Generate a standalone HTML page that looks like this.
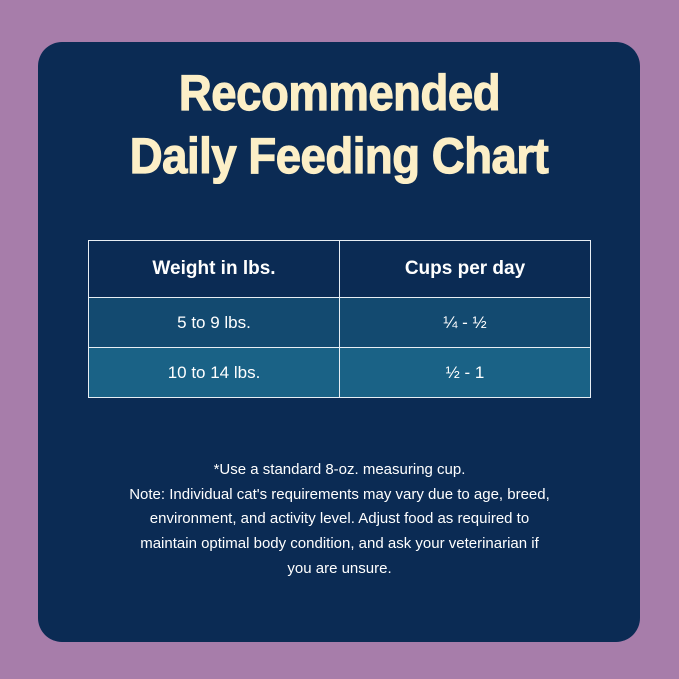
<!DOCTYPE html>
<html><head><style>
body{margin:0;width:679px;height:679px;background:#a77daa;position:relative;overflow:hidden;font-family:"Liberation Sans",sans-serif}
.card{position:absolute;left:38px;top:42px;width:602px;height:600px;background:#0b2b54;border-radius:24px}
.t{position:absolute;left:0;width:679px;text-align:center;color:#fcefc7;font-weight:bold;font-size:50px;line-height:50px;white-space:nowrap;-webkit-text-stroke:1.2px #fcefc7}
.t span{display:inline-block;transform:scaleX(0.91);letter-spacing:-0.5px}
table{position:absolute;left:88px;top:240px;width:503px;border-collapse:collapse;color:#fff;font-size:17px}
td{border:1.5px solid #e8eef4;text-align:center;padding:0}
.h td{height:56px;font-weight:bold;font-size:19px;background:#0b2b54}
.r1 td{height:49px;background:#134a70}
.r2 td{height:49px;background:#1a6286}
.n{position:absolute;left:0;width:679px;top:458px;text-align:center;color:#fff;font-size:15px;line-height:24.7px}
</style></head><body>
<div class="card"></div>
<div class="t" style="top:68px"><span>Recommended</span></div>
<div class="t" style="top:131px"><span>Daily Feeding Chart</span></div>
<table>
<tr class="h"><td style="width:250px">Weight in lbs.</td><td>Cups per day</td></tr>
<tr class="r1"><td>5 to 9 lbs.</td><td>¼ - ½</td></tr>
<tr class="r2"><td>10 to 14 lbs.</td><td>½ - 1</td></tr>
</table>
<div class="n">*Use a standard 8-oz. measuring cup.<br>Note: Individual cat's requirements may vary due to age, breed,<br>environment, and activity level. Adjust food as required to<br>maintain optimal body condition, and ask your veterinarian if<br>you are unsure.</div>
</body></html>
